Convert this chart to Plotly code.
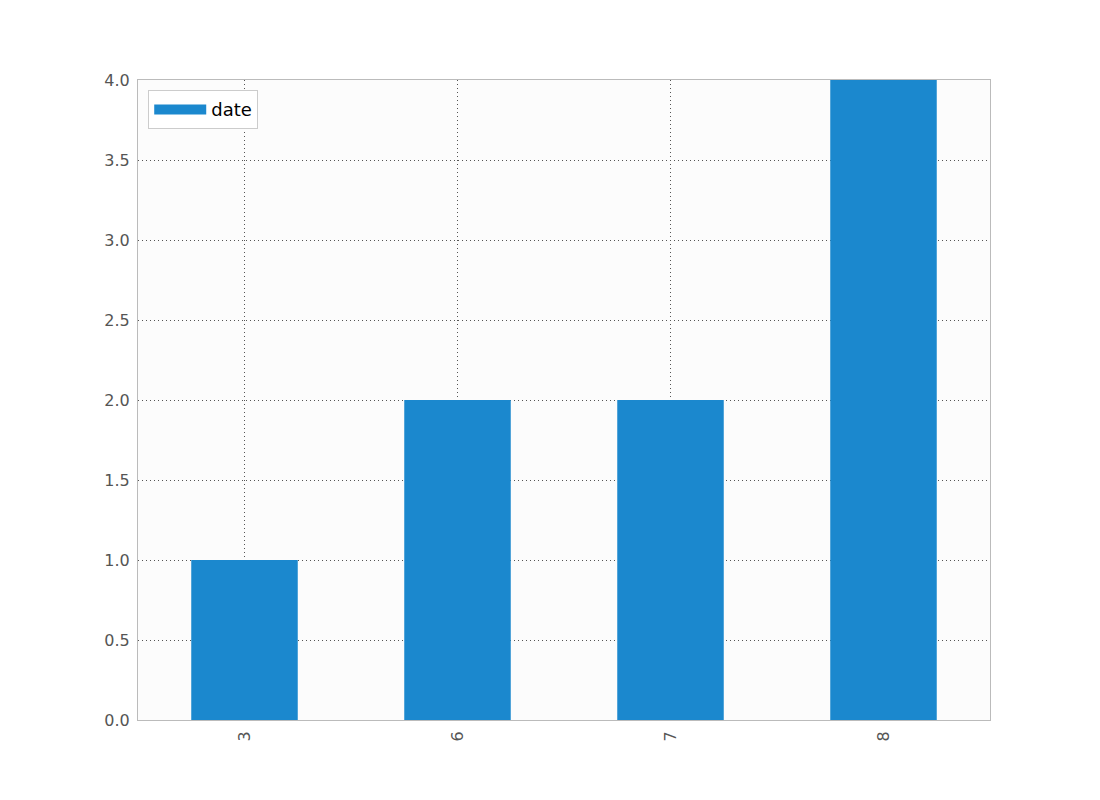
import plotly.graph_objects as go

categories = ["3", "6", "7", "8"]
values = [1, 2, 2, 4]
series_name = "date"
y_ticks = [0.0, 0.5, 1.0, 1.5, 2.0, 2.5, 3.0, 3.5, 4.0]
y_tick_labels = ["%.1f" % v for v in y_ticks]

bar_color = "#1B88CE"

fig = go.Figure()
fig.add_trace(go.Bar(
    x=categories, y=values, name=series_name,
    marker=dict(color=bar_color, line=dict(width=0)),
    width=0.5, showlegend=False,
))
# legend-only entry to get a wide rectangular swatch like the original
fig.add_trace(go.Scatter(
    x=[None], y=[None], name=series_name, mode="lines",
    line=dict(color=bar_color, width=13), showlegend=True,
    hoverinfo="skip",
))

grid_dash = "1px,3px"

fig.update_layout(
    width=1100, height=800,
    margin=dict(l=130, r=118, t=72, b=88),
    paper_bgcolor="white",
    plot_bgcolor="#FCFCFC",
    font=dict(family="DejaVu Sans", size=16, color="#555555"),
    showlegend=True,
    legend=dict(
        x=0.012, y=0.984, xanchor="left", yanchor="top",
        bgcolor="white", bordercolor="#CCCCCC", borderwidth=1,
        font=dict(size=18, color="black"),
        itemwidth=52,
    ),
    xaxis=dict(
        type="category", range=[-0.5, 3.5],
        tickangle=-90, ticks="", showline=True, linecolor="#BBBBBB",
        linewidth=1, mirror=True,
        showgrid=True, gridcolor="#555555", griddash=grid_dash, gridwidth=1,
        tickfont=dict(size=16, color="#555555"),
        ticklabelstandoff=4,
    ),
    yaxis=dict(
        range=[0, 4], tickvals=y_ticks, ticktext=y_tick_labels,
        ticks="", showline=True, linecolor="#BBBBBB", linewidth=1, mirror=True,
        showgrid=True, gridcolor="#555555", griddash=grid_dash, gridwidth=1,
        zeroline=False,
        tickfont=dict(size=16, color="#555555"),
        ticklabelstandoff=4,
    ),
)

fig.write_html("out.html")
